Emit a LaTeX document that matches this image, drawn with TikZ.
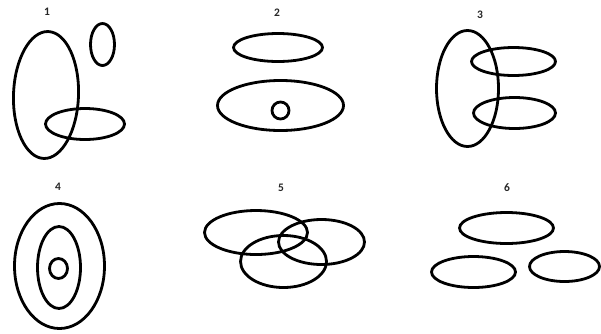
\documentclass[tikz,border=0pt]{standalone}
\usepackage{fontspec}
\setmainfont{Carlito}
\begin{document}
\begin{tikzpicture}[x=1pt,y=-1pt,
  ring/.style={draw=black,line width=2.8pt},
  lbl/.style={font=\bfseries\fontsize{11.5}{12}\selectfont,inner sep=0pt,text=black!85}]
\useasboundingbox (0,0) rectangle (601,333);
% panel 1
\node[lbl] (l1) at (47,12) {1};
\draw[ring,rotate around={-2:(46,95)}] (46,95) ellipse [x radius=32.5,y radius=63.5];
\draw[ring] (102.5,44.5) ellipse [x radius=12,y radius=21];
\draw[ring] (85,124) ellipse [x radius=39.5,y radius=15.5];
% panel 2
\node[lbl] (l2) at (277,13) {2};
\draw[ring] (278,47.5) ellipse [x radius=44.5,y radius=14];
\draw[ring] (280.5,105.5) ellipse [x radius=63,y radius=25];
\draw[ring] (280.5,110.5) circle [radius=8.5];
% panel 3
\node[lbl] (l3) at (480,15) {3};
\draw[ring] (467.5,88.5) ellipse [x radius=31,y radius=58];
\draw[ring] (513.5,61.5) ellipse [x radius=42,y radius=14];
\draw[ring] (514.5,113) ellipse [x radius=41,y radius=15.5];
% panel 4
\node[lbl] (l4) at (58,187) {4};
\draw[ring] (59.5,266) ellipse [x radius=45,y radius=62.5];
\draw[ring] (59,267.5) ellipse [x radius=21.5,y radius=41];
\draw[ring] (58.5,268.5) ellipse [x radius=9,y radius=10];
% panel 5
\node[lbl] (l5) at (281,188) {5};
\draw[ring] (256,232.5) ellipse [x radius=51.5,y radius=22];
\draw[ring] (321.5,242) ellipse [x radius=43,y radius=22.5];
\draw[ring] (283.5,261.5) ellipse [x radius=43,y radius=26];
% panel 6
\node[lbl] (l6) at (507,188) {6};
\draw[ring] (506.5,228) ellipse [x radius=47,y radius=15.5];
\draw[ring] (473.5,272) ellipse [x radius=42,y radius=15.5];
\draw[ring] (564.5,266.5) ellipse [x radius=35,y radius=15];
\end{tikzpicture}
\end{document}
